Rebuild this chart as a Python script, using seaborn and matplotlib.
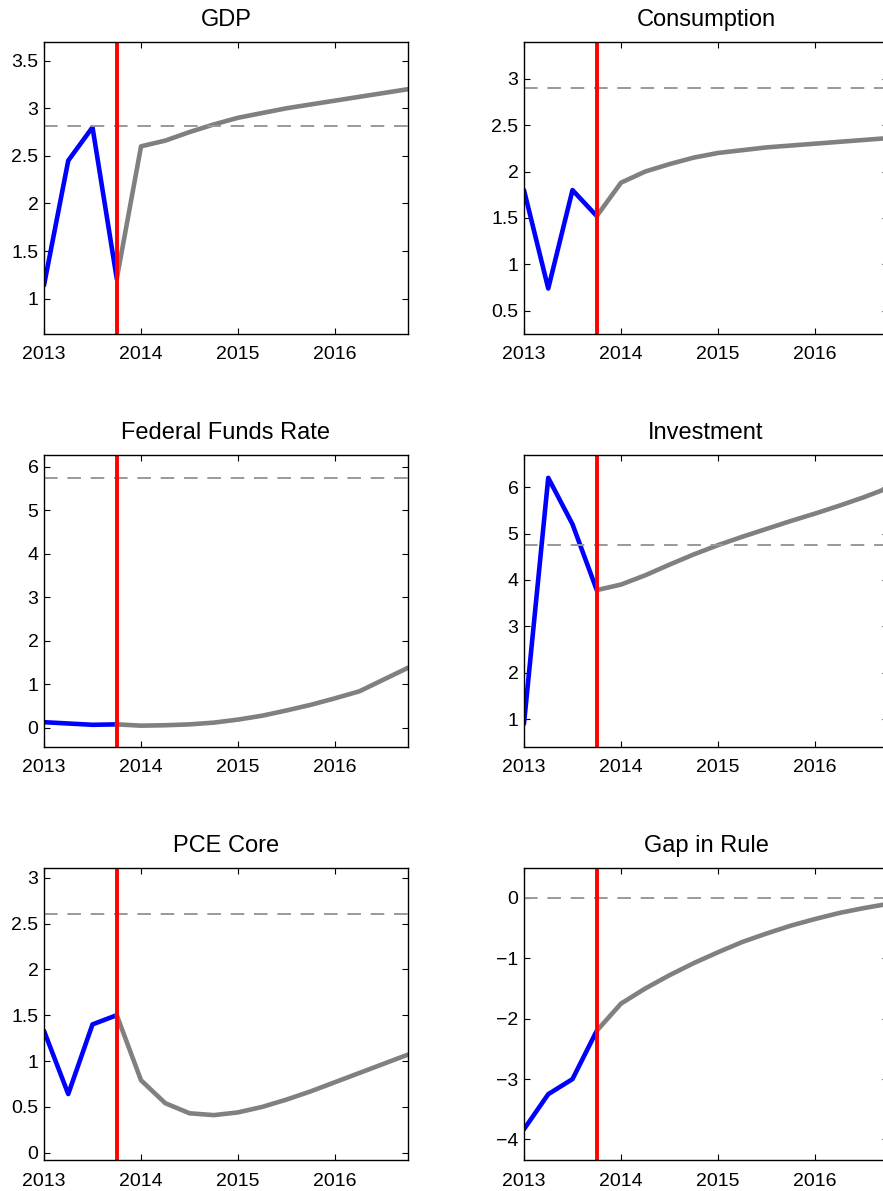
import numpy as np
import pandas as pd
import matplotlib
matplotlib.use("Agg")
import matplotlib.pyplot as plt
import seaborn as sns

# quarterly dates, history ends at 2013Q4 (2013.75)
hist_dates = [2013.0, 2013.25, 2013.5, 2013.75]
proj_dates = [2013.75, 2014.0, 2014.25, 2014.5, 2014.75, 2015.0, 2015.25, 2015.5,
              2015.75, 2016.0, 2016.25, 2016.5, 2016.75]
cutoff = 2013.75

titles = ["GDP", "Consumption", "Federal Funds Rate", "Investment", "PCE Core", "Gap in Rule"]

gdp_hist = [1.14, 2.45, 2.80, 1.21]
gdp_proj = [1.21, 2.60, 2.66, 2.75, 2.83, 2.90, 2.95, 3.00, 3.04, 3.08, 3.12, 3.16, 3.20]
gdp_ss = 2.81

cons_hist = [1.80, 0.74, 1.80, 1.52]
cons_proj = [1.52, 1.88, 2.00, 2.08, 2.15, 2.20, 2.23, 2.26, 2.28, 2.30, 2.32, 2.34, 2.36]
cons_ss = 2.90

ffr_hist = [0.13, 0.10, 0.07, 0.08]
ffr_proj = [0.08, 0.05, 0.06, 0.08, 0.12, 0.19, 0.28, 0.40, 0.53, 0.68, 0.84, 1.11, 1.38]
ffr_ss = 5.75

inv_hist = [0.90, 6.20, 5.20, 3.78]
inv_proj = [3.78, 3.90, 4.10, 4.33, 4.55, 4.75, 4.93, 5.10, 5.27, 5.43, 5.60, 5.78, 5.98]
inv_ss = 4.75

pce_hist = [1.33, 0.64, 1.40, 1.50]
pce_proj = [1.50, 0.79, 0.54, 0.43, 0.41, 0.44, 0.50, 0.58, 0.67, 0.77, 0.87, 0.97, 1.07]
pce_ss = 2.60

gap_hist = [-3.83, -3.25, -3.00, -2.20]
gap_proj = [-2.20, -1.75, -1.50, -1.28, -1.08, -0.90, -0.73, -0.59, -0.46, -0.35, -0.25, -0.17, -0.10]
gap_ss = 0.0

hist = [gdp_hist, cons_hist, ffr_hist, inv_hist, pce_hist, gap_hist]
proj = [gdp_proj, cons_proj, ffr_proj, inv_proj, pce_proj, gap_proj]
ss = [gdp_ss, cons_ss, ffr_ss, inv_ss, pce_ss, gap_ss]

ylims = [(0.63, 3.70), (0.25, 3.40), (-0.44, 6.28), (0.40, 6.70), (-0.08, 3.11), (-4.34, 0.50)]
yticks = [[1, 1.5, 2, 2.5, 3, 3.5], [0.5, 1, 1.5, 2, 2.5, 3], [0, 1, 2, 3, 4, 5, 6],
          [1, 2, 3, 4, 5, 6], [0, 0.5, 1, 1.5, 2, 2.5, 3], [-4, -3, -2, -1, 0]]
xticks = [2013, 2014, 2015, 2016]

sns.set_style("ticks")
plt.rcParams["font.family"] = ["Liberation Sans", "DejaVu Sans"]
plt.rcParams["xtick.direction"] = "in"
plt.rcParams["ytick.direction"] = "in"
plt.rcParams["xtick.top"] = True
plt.rcParams["ytick.right"] = True
plt.rcParams["text.color"] = "black"
plt.rcParams["axes.edgecolor"] = "black"
plt.rcParams["xtick.color"] = "black"
plt.rcParams["ytick.color"] = "black"
plt.rcParams["xtick.labelcolor"] = "black"
plt.rcParams["ytick.labelcolor"] = "black"

fig = plt.figure(figsize=(8.83, 11.91), dpi=100)

# axes boxes in figure fractions (right column runs past the edge, like the original)
lefts = [0.0498, 0.5934]
bottoms = [0.7196, 0.3728, 0.0260]
w, h = 0.4122, 0.2455

for i in range(6):
    r, c = divmod(i, 2)
    ax = fig.add_axes([lefts[c], bottoms[r], w, h])
    sns.lineplot(x=hist_dates, y=hist[i], ax=ax, color="#0000ff", linewidth=3.3)
    sns.lineplot(x=proj_dates, y=proj[i], ax=ax, color="#808080", linewidth=3.3)
    ax.axhline(ss[i], color="#999999", linewidth=1.4, linestyle=(0, (7, 5)))
    ax.axvline(cutoff, color="#ff0000", linewidth=2.8)
    ax.set_xlim(2013, 2016.75)
    ax.set_ylim(*ylims[i])
    ax.set_xticks(xticks)
    ax.set_xticklabels([str(t) for t in xticks])
    ax.set_yticks(yticks[i])
    ax.set_yticklabels([("%g" % t).replace("-", "\u2212") for t in yticks[i]])
    ax.tick_params(axis="x", labelsize=14, length=4, width=0.8, pad=9)
    ax.tick_params(axis="y", labelsize=14, length=4, width=0.8, pad=4)
    for s in ax.spines.values():
        s.set_linewidth(1.0)
    ax.set_title(titles[i], fontsize=17, pad=11, color="black")
    ax.set_xlabel("")
    ax.set_ylabel("")

fig.savefig("out.png", dpi=100)
